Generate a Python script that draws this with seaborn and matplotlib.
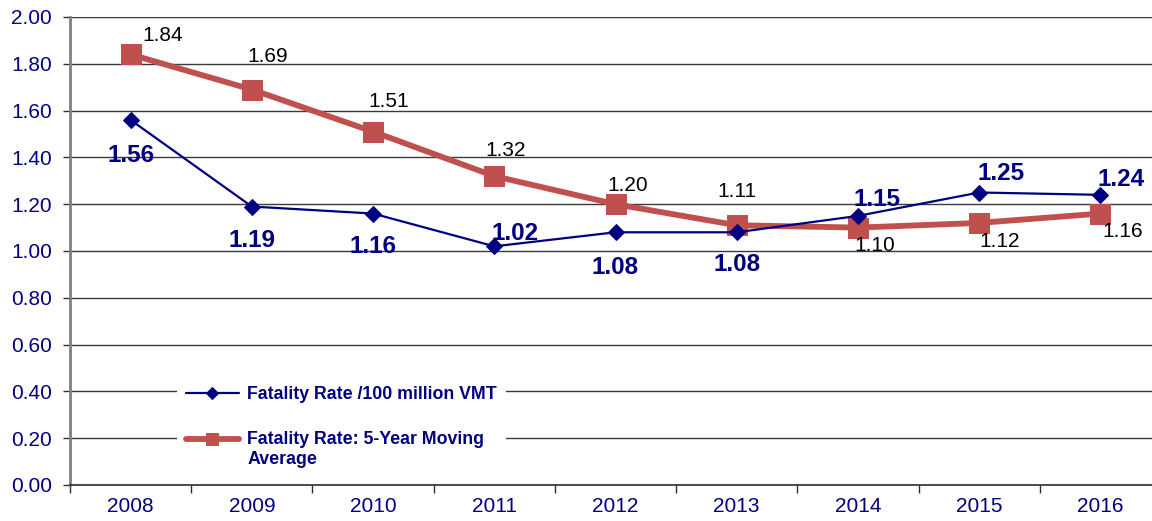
import matplotlib
matplotlib.use("Agg")
import matplotlib.pyplot as plt
from matplotlib.legend_handler import HandlerLine2D
import seaborn as sns
import pandas as pd
import numpy as np

years = ["2008", "2009", "2010", "2011", "2012", "2013", "2014", "2015", "2016"]
fatality_rate = [1.56, 1.19, 1.16, 1.02, 1.08, 1.08, 1.15, 1.25, 1.24]
moving_avg = [1.84, 1.69, 1.51, 1.32, 1.20, 1.11, 1.10, 1.12, 1.16]
yticks = [0.0, 0.2, 0.4, 0.6, 0.8, 1.0, 1.2, 1.4, 1.6, 1.8, 2.0]

sns.set_theme(style="white")
plt.rcParams['font.family'] = ['Liberation Sans', 'DejaVu Sans']

navy = "#000080"
red = "#C0504D"

df = pd.DataFrame({"x": np.arange(len(years)), "rate": fatality_rate, "avg": moving_avg})

fig = plt.figure(figsize=(11.52, 5.21), dpi=100)
ax = fig.add_axes([70 / 1152, 1 - 485 / 521, 1091 / 1152, 468 / 521])

sns.lineplot(data=df, x="x", y="avg", ax=ax, color=red, linewidth=4.2, marker="s",
             markersize=14, markeredgecolor=red, label="Fatality Rate: 5-Year Moving\nAverage", zorder=3)
sns.lineplot(data=df, x="x", y="rate", ax=ax, color=navy, linewidth=1.6, marker="D",
             markersize=8, markeredgecolor=navy, label="Fatality Rate /100 million VMT", zorder=4)

ax.set_xlim(-0.5, len(years) - 0.5)
ax.set_ylim(0, 2.0)
ax.set_yticks(yticks)
ax.set_yticklabels([f"{v:.2f}" for v in yticks])
ax.set_xticks(np.arange(len(years)))
ax.set_xticklabels(years)
ax.set_xticks(np.arange(len(years) + 1) - 0.5, minor=True)
ax.set_xlabel("")
ax.set_ylabel("")

ax.yaxis.grid(True, color="#3a3a3a", linewidth=1.0)
ax.set_axisbelow(True)
for s in ["top", "right"]:
    ax.spines[s].set_visible(False)
ax.spines["left"].set_color("#808080")
ax.spines["left"].set_linewidth(2)
ax.spines["bottom"].set_color("#303030")
ax.spines["bottom"].set_linewidth(1.2)

ax.tick_params(axis="y", which="major", left=True, length=5, width=1, color="#303030",
               labelsize=15, labelcolor=navy, pad=8)
ax.tick_params(axis="x", which="major", bottom=False, length=0, labelsize=15, labelcolor=navy, pad=9)
ax.tick_params(axis="x", which="minor", bottom=True, length=6, width=1, color="#303030")

# blue labels (pixel offsets)
blue_off = [(0, -36), (0, -34), (0, -33), (21, 13), (0, -35), (0, -32), (19, 16), (22, 19), (21, 15)]
for i, (v, (dx, dy)) in enumerate(zip(fatality_rate, blue_off)):
    ax.annotate(f"{v:.2f}", (i, v), xytext=(dx * 0.72, dy * 0.72), textcoords="offset points",
                ha="center", va="center", fontsize=17.5, fontweight="bold", color=navy, zorder=6)

red_off = [(32, 19), (16, 33), (16, 30), (11, 26), (12, 19), (0, 34), (17, -18), (20, -19), (22, -18)]
for i, (v, (dx, dy)) in enumerate(zip(moving_avg, red_off)):
    ax.annotate(f"{v:.2f}", (i, v), xytext=(dx * 0.72, dy * 0.72), textcoords="offset points",
                ha="center", va="center", fontsize=15, color="black", zorder=6)


class TopLineHandler(HandlerLine2D):
    def __init__(self, shift=0.0, **kw):
        super().__init__(**kw)
        self.shift = shift

    def create_artists(self, legend, orig_handle, xdescent, ydescent, width, height, fontsize, trans):
        arts = super().create_artists(legend, orig_handle, xdescent, ydescent, width, height, fontsize, trans)
        for a in arts:
            a.set_ydata(np.asarray(a.get_ydata(), dtype=float) + self.shift)
        return arts


h, l = ax.get_legend_handles_labels()
h, l = h[::-1], l[::-1]
leg = ax.legend(h, l, loc="upper left", bbox_to_anchor=(98 / 1091, (485 - 368) / 468),
                frameon=True, facecolor="white", edgecolor="none", framealpha=1, fancybox=False,
                handlelength=3.0, handletextpad=0.45, labelspacing=1.6, borderpad=0.5,
                prop={"size": 12.8, "weight": "bold"},
                handler_map={h[1]: TopLineHandler(shift=7.5)})
for t in leg.get_texts():
    t.set_color(navy)
for lh in leg.get_lines():
    if lh.get_marker() == "s":
        lh.set_markersize(9)
    else:
        lh.set_markersize(6)
leg.set_zorder(5)

fig.savefig("out.png", dpi=100)
